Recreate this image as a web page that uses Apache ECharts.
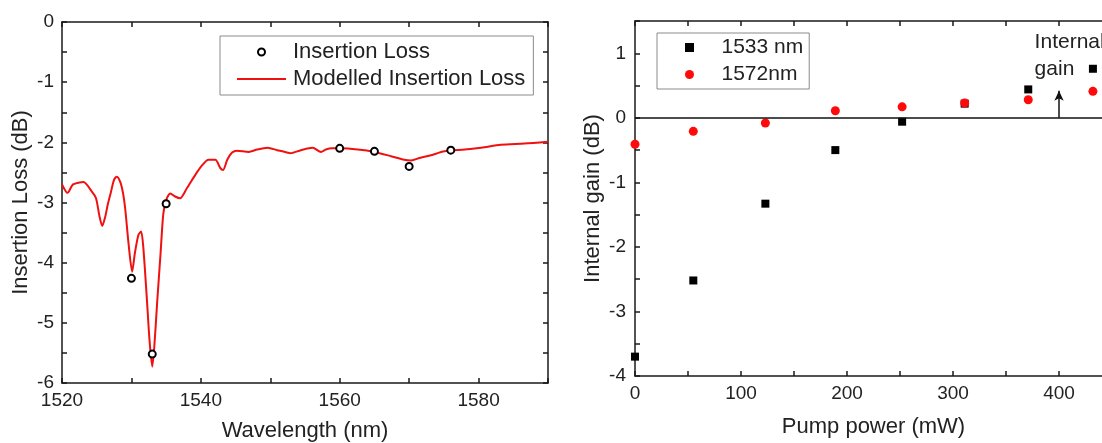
<!DOCTYPE html>
<html>
<head>
<meta charset="utf-8">
<script src="https://cdn.jsdelivr.net/npm/echarts@6/dist/echarts.min.js"></script>
<style>
html,body{margin:0;padding:0;background:#fff;}
#c{width:1102px;height:443px;}
</style>
</head>
<body>
<div id="c"></div>
<script>
// ---- Left panel data ----
const ilWavelength = [1530, 1533, 1535, 1560, 1565, 1570, 1576];
const ilMeasured = [-4.26, -5.52, -3.02, -2.10, -2.15, -2.40, -2.13];

const modelWavelength = [1520.0,1520.8,1521.6,1523.1,1524.3,1524.9,1525.4,1525.8,1526.2,1526.6,1527.0,1527.5,1527.9,1528.4,1528.8,1529.1,1529.6,1530.1,1530.5,1531.0,1531.4,1531.7,1532.2,1532.6,1533.0,1533.3,1533.7,1534.2,1534.6,1535.1,1535.6,1536.3,1537.0,1538.0,1539.2,1540.2,1541.1,1542.1,1542.8,1543.2,1543.8,1544.5,1545.2,1546.9,1548.1,1549.6,1551.0,1552.4,1552.9,1554.4,1556.1,1557.3,1558.0,1558.9,1560.1,1562.6,1565.0,1567.4,1569.3,1570.3,1571.5,1573.0,1575.1,1578.0,1580.4,1583.2,1586.6,1590.0];
const modelLoss = [-2.70,-2.84,-2.70,-2.66,-2.82,-2.93,-3.23,-3.39,-3.25,-3.03,-2.85,-2.62,-2.57,-2.66,-2.85,-3.10,-3.70,-4.15,-3.84,-3.54,-3.48,-3.73,-4.56,-5.28,-5.73,-5.39,-4.67,-3.84,-3.18,-2.93,-2.85,-2.90,-2.93,-2.76,-2.54,-2.38,-2.29,-2.29,-2.43,-2.46,-2.29,-2.17,-2.14,-2.16,-2.12,-2.09,-2.13,-2.17,-2.18,-2.13,-2.09,-2.16,-2.12,-2.10,-2.10,-2.12,-2.16,-2.23,-2.29,-2.30,-2.26,-2.22,-2.15,-2.12,-2.09,-2.04,-2.02,-1.99];

// ---- Right panel data ----
const pumpPower = [0, 55, 123, 189, 252, 311, 371, 432];
const gain1533 = [-3.70, -2.52, -1.33, -0.50, -0.06, 0.22, 0.44, 0.76];
const gain1572 = [-0.41, -0.21, -0.08, 0.11, 0.17, 0.23, 0.28, 0.41];

const leftXTicks = [1520, 1540, 1560, 1580];
const arrowX = 400, arrowTop = 0.42;
const annotText = 'Internal\ngain';
const annotPos = [377, 1.38];

const zip = (a, b) => a.map((v, i) => [v, b[i]]);

const FONT = 'Liberation Sans, Arial, sans-serif';
const AX = '#1a1a1a';

function axisBase(extra) {
  return Object.assign({
    type: 'value',
    axisLine: {show: true, onZero: false, lineStyle: {color: AX, width: 1.5}},
    axisTick: {show: true, inside: true, length: 5, lineStyle: {color: AX, width: 1.5}},
    splitLine: {show: false},
    axisLabel: {color: '#222', fontSize: 19, fontFamily: FONT},
    nameTextStyle: {color: '#222', fontSize: 22, fontFamily: FONT},
  }, extra);
}

const chart = echarts.init(document.getElementById('c'), null, {renderer: 'canvas'});

const option = {
  animation: false,
  backgroundColor: '#fff',
  textStyle: {fontFamily: FONT},
  grid: [
    {left: 62, top: 22, width: 486, height: 361, outerBoundsMode: 'none', containLabel: false},
    {left: 635, top: 21, width: 477, height: 355, outerBoundsMode: 'none', containLabel: false}
  ],
  xAxis: [
    axisBase({gridIndex: 0, min: 1520, max: 1590, interval: 10, position: 'bottom',
      name: 'Wavelength (nm)', nameLocation: 'middle', nameGap: 37,
      axisLabel: {color: '#222', fontSize: 19, fontFamily: FONT, margin: 8,
        formatter: v => leftXTicks.includes(v) ? String(v) : ''}}),
    axisBase({gridIndex: 0, min: 1520, max: 1590, interval: 10, position: 'top',
      axisLabel: {show: false}}),
    axisBase({gridIndex: 1, min: 0, max: 450, interval: 50, position: 'bottom',
      name: 'Pump power (mW)', nameLocation: 'middle', nameGap: 40,
      axisLabel: {color: '#222', fontSize: 19, fontFamily: FONT, margin: 8,
        formatter: v => (v % 100 === 0) ? String(v) : ''}}),
    axisBase({gridIndex: 1, min: 0, max: 450, interval: 50, position: 'top',
      axisLabel: {show: false}})
  ],
  yAxis: [
    axisBase({gridIndex: 0, min: -6, max: 0, interval: 0.5, position: 'left',
      name: 'Insertion Loss (dB)', nameLocation: 'middle', nameGap: 30,
      axisLabel: {color: '#222', fontSize: 19, fontFamily: FONT, margin: 8,
        formatter: v => Number.isInteger(v) ? String(v) : ''}}),
    axisBase({gridIndex: 0, min: -6, max: 0, interval: 0.5, position: 'right',
      axisLabel: {show: false}}),
    axisBase({gridIndex: 1, min: -4, max: 1.5, interval: 0.5, position: 'left',
      name: 'Internal gain (dB)', nameLocation: 'middle', nameGap: 31,
      axisLabel: {color: '#222', fontSize: 19, fontFamily: FONT, margin: 9,
        formatter: v => Number.isInteger(v) ? String(v) : ''}}),
    axisBase({gridIndex: 1, min: -4, max: 1.5, interval: 0.5, position: 'right',
      axisLabel: {show: false}})
  ],
  legend: [
    {
      data: [
        {name: 'Insertion Loss'},
        {name: 'Modelled Insertion Loss', icon: 'path://M0,0 L49,0 L49,2 L0,2 Z', itemStyle: {color: '#f01010'}}
      ],
      orient: 'vertical', left: 220, top: 36,
      itemWidth: 49, itemHeight: 7, itemGap: 5,
      padding: [5, 8, 5, 17],
      borderColor: '#8a8a8a', borderWidth: 1, backgroundColor: '#fff',
      textStyle: {color: '#222', fontSize: 22, fontFamily: FONT, lineHeight: 22, padding: [0, 0, 0, 2]}
    },
    {
      data: [
        {name: '1533 nm', icon: 'path://M0,0 L10,0 L10,10 L0,10 Z'},
        {name: '1572nm', icon: 'circle'}
      ],
      orient: 'vertical', left: 657, top: 33,
      itemWidth: 54, itemHeight: 9, itemGap: 6,
      padding: [4, 6, 4, 28],
      borderColor: '#8a8a8a', borderWidth: 1, backgroundColor: '#fff',
      textStyle: {color: '#222', fontSize: 21, fontFamily: FONT, lineHeight: 21}
    }
  ],
  series: [
    {
      name: 'Modelled Insertion Loss', type: 'line', xAxisIndex: 0, yAxisIndex: 0,
      data: zip(modelWavelength, modelLoss), symbol: 'none', smooth: 0.25,
      lineStyle: {color: '#f01010', width: 2}, itemStyle: {color: '#f01010'}, z: 2
    },
    {
      name: 'Insertion Loss', type: 'scatter', xAxisIndex: 0, yAxisIndex: 0,
      data: zip(ilWavelength, ilMeasured), symbol: 'emptyCircle', symbolSize: 7,
      itemStyle: {color: '#000', borderColor: '#000', borderWidth: 2, opacity: 1}, z: 3
    },
    {
      name: '1533 nm', type: 'scatter', xAxisIndex: 2, yAxisIndex: 2,
      data: zip(pumpPower, gain1533), symbol: 'rect', symbolSize: 8, clip: false,
      itemStyle: {color: '#000', opacity: 1}, z: 3,
      markLine: {
        silent: true, symbol: 'none', animation: false,
        label: {show: false},
        lineStyle: {color: '#111', width: 1.5, type: 'solid'},
        data: [{yAxis: 0}]
      }
    },
    {
      name: '1572nm', type: 'scatter', xAxisIndex: 2, yAxisIndex: 2,
      data: zip(pumpPower, gain1572), symbol: 'circle', symbolSize: 9, clip: false,
      itemStyle: {color: '#ff0a0a', opacity: 1}, z: 4,
      markLine: {
        silent: true, animation: false,
        symbol: ['none', 'arrow'], symbolSize: [7, 10],
        label: {show: false},
        lineStyle: {color: '#111', width: 1.5, type: 'solid'},
        data: [[{coord: [arrowX, 0]}, {coord: [arrowX, arrowTop]}]]
      }
    }
  ]
};

chart.setOption(option);

const p = chart.convertToPixel({gridIndex: 1}, annotPos);
chart.setOption({
  graphic: [{
    type: 'text', left: p[0], top: p[1], z: 10,
    style: {text: annotText, fill: '#222', fontSize: 21, fontFamily: FONT, lineHeight: 27}
  }]
});
</script>
</body>
</html>
